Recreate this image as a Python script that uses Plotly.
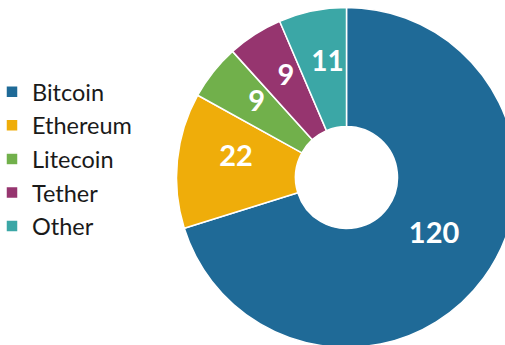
import plotly.graph_objects as go

labels = ["Bitcoin", "Ethereum", "Litecoin", "Tether", "Other"]
values = [120, 22, 9, 9, 11]
colors = ["#1f6a97", "#efad0a", "#71b04b", "#96356f", "#3ba7a6"]

W, H = 517, 348
CX, CY = 346.5, 177.5      # donut centre (px from top-left)
R_OUT = 170                # donut outer radius (px)


def dom(cx, cy, r):
    return dict(x=[max((cx - r) / W, 0), min((cx + r) / W, 1)],
                y=[max((H - cy - r) / H, 0), min((H - cy + r) / H, 1)])


total = sum(values)
big_text = [str(v) if v / total > 0.1 else "" for v in values]
small_text = [str(v) if v / total <= 0.1 else "" for v in values]
clear = ["rgba(0,0,0,0)"] * len(values)
lab_font = dict(family="Lato", size=29, color="white", weight="bold")

fig = go.Figure()
# visible donut
fig.add_trace(go.Pie(
    labels=labels, values=values, sort=False, direction="clockwise", rotation=0,
    hole=0.3,
    marker=dict(colors=colors, line=dict(color="white", width=1.5)),
    textinfo="none",
    domain=dom(CX, CY, R_OUT),
    hoverinfo="label+value",
))
# transparent twins carrying the value labels (big slices / small slices)
for txt, (cx, cy, r, hole) in [(big_text, (345.5, 166, 150, 0.4667)),
                               (small_text, (350.8, 174.5, 140, 0.0))]:
    fig.add_trace(go.Pie(
        labels=labels, values=values, sort=False, direction="clockwise", rotation=0,
        hole=hole, showlegend=False,
        marker=dict(colors=clear, line=dict(width=0)),
        text=txt, texttemplate="%{text}", textposition="inside",
        insidetextorientation="horizontal", textfont=lab_font,
        domain=dom(cx, cy, r),
        hoverinfo="skip",
    ))
fig.update_layout(
    width=W, height=H, autosize=False,
    margin=dict(l=0, r=0, t=0, b=0, autoexpand=False),
    paper_bgcolor="white", plot_bgcolor="white",
    font=dict(family="Lato", color="#1a1a1a"),
    showlegend=True,
    legend=dict(x=-8 / W, xanchor="left", y=1 - 159 / H, yanchor="middle",
                font=dict(family="Lato", size=23.5, color="#1a1a1a"),
                bgcolor="rgba(0,0,0,0)"),
)
fig.write_html("out.html", post_script="document.documentElement.style.overflow='hidden';document.body.style.overflow='hidden';")
